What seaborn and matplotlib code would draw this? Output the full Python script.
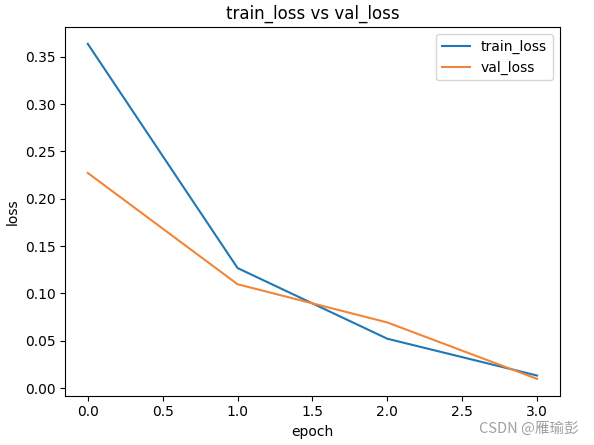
import pandas as pd
import matplotlib.pyplot as plt
import seaborn as sns

epochs = [0, 1, 2, 3]
train_loss = [0.3637, 0.1268, 0.0521, 0.0132]
val_loss = [0.2273, 0.1097, 0.0693, 0.0097]

df = pd.DataFrame({"epoch": epochs, "train_loss": train_loss, "val_loss": val_loss})

fig = plt.figure(figsize=(5.94, 4.45), dpi=100)
ax = fig.add_axes([0.110, 0.111, 0.832, 0.828])

sns.lineplot(data=df, x="epoch", y="train_loss", ax=ax, color="tab:blue", label="train_loss")
sns.lineplot(data=df, x="epoch", y="val_loss", ax=ax, color="#f28536", label="val_loss")

ax.set_title("train_loss vs val_loss")
ax.set_xlabel("epoch")
ax.set_ylabel("loss")
ax.legend(loc="upper right")

fig.text(0.975, 0.036, "CSDN @雁瑜彭", ha="right", va="center", color="#a0a0a0",
         fontsize=10.5, family=["Noto Sans CJK SC", "DejaVu Sans"])

fig.savefig("out.png", dpi=100)
